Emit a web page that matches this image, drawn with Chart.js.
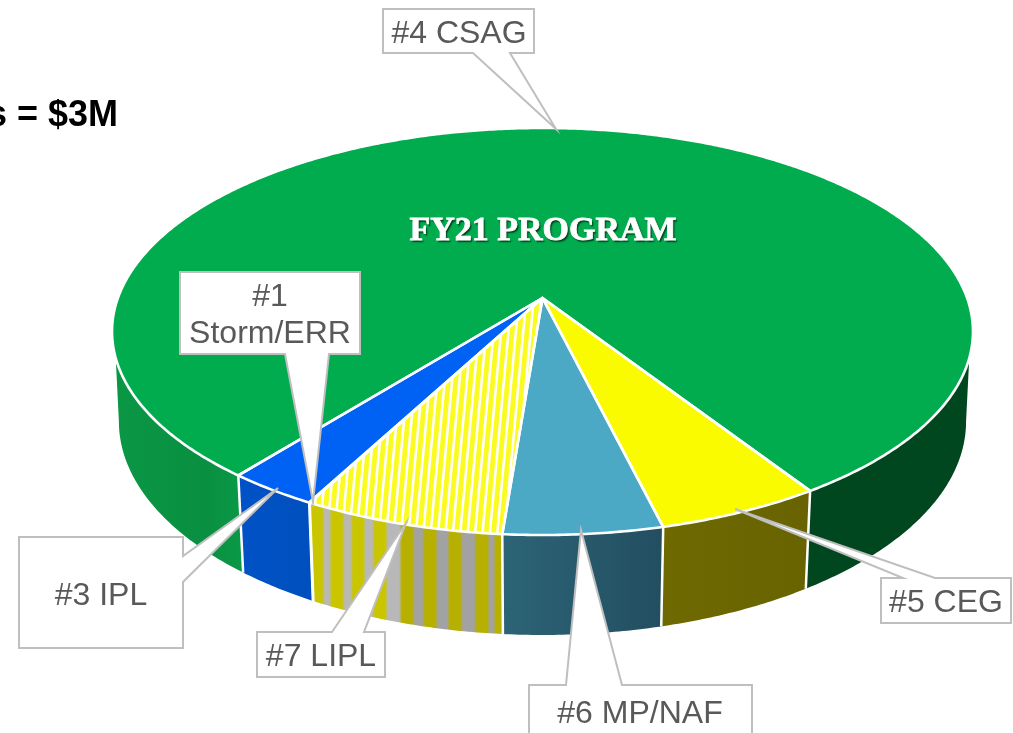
<!DOCTYPE html>
<html><head><meta charset="utf-8">
<style>html,body{margin:0;padding:0;background:#fff;overflow:hidden}canvas{display:block}</style>
<script src="https://cdn.jsdelivr.net/npm/chart.js@4/dist/chart.umd.min.js"></script>
</head><body><canvas id="c" width="1013" height="733"></canvas>
<script>
// Data (share of FY21 program, %), clockwise from the CEG slice
const categories = ['#5 CEG', '#6 MP/NAF', '#7 LIPL', '#1 Storm/ERR', '#3 IPL', '#4 CSAG'];
const shares = [5.3, 5.1, 6.5, 0.02, 2.95, 80.13];
const topColors = ['#FBFB00', '#4BA9C6', '#FBFB22', '#0062F5', '#0062F5', '#00AC4E'];
const titleText = 'FY21 PROGRAM';
const totalText = 's = $3M';

// Drawing layout
const firstSliceRotation = 147.1;
const P = {X0: 542.5, Y0: 298, R: 424.6, S: 198, k: 0.1646};
const D = rad => rad * Math.PI / 180;
const proj = (th, f = 1) => {
  const u = f * Math.cos(th), v = f * Math.sin(th), w = 1 - P.k * v;
  return [P.X0 + P.R * u / w, P.Y0 + P.S * v / w];
};
const lower = (th) => {
  const [x, y] = proj(th);
  return [541 + 0.984 * (x - 541), 421.5 + 1.049 * (y - 331.5)];
};
const stripeCentres = [317, 337, 358, 380, 407, 430, 455, 482, 501];
const callouts = [
  {cat: 5, box: [383, 9, 534, 53], lines: ['#4 CSAG'], base: [[473, 53], [510, 53]], tip: [556, 129], tx: 459, ty: [43]},
  {cat: 3, box: [180, 272, 360, 354], lines: ['#1', 'Storm/ERR'], base: [[285, 354], [329, 354]], tip: [313, 502], tx: 270, ty: [306, 343]},
  {cat: 4, box: [19, 537, 183, 648], lines: ['#3 IPL'], base: [[183, 556], [183, 582]], tip: [278, 488], tx: 101, ty: [605]},
  {cat: 2, box: [257, 632, 385, 677], lines: ['#7 LIPL'], base: [[332, 632], [364, 632]], tip: [406, 523], tx: 321, ty: [666]},
  {cat: 1, box: [529, 685, 752, 760], lines: ['#6 MP/NAF'], base: [[566, 685], [622, 685]], tip: [581, 530], tx: 640, ty: [723]},
  {cat: 0, box: [881, 578, 1011, 623], lines: ['#5 CEG'], base: [[903, 578], [935, 578]], tip: [735, 509], tx: 946, ty: [612]}
];

function sidePaint(ctx, i, x0, x1) {
  const g = ctx.createLinearGradient(x0, 0, x1, 0);
  if (i === 0) { g.addColorStop(0, '#6E6900'); g.addColorStop(1, '#686300'); }
  else if (i === 1) { g.addColorStop(0, '#2C6476'); g.addColorStop(1, '#224E60'); }
  else if (i === 3 || i === 4) { g.addColorStop(0, '#0052C6'); g.addColorStop(1, '#004FBE'); }
  else if (i === 2) {
    const span = x1 - x0;
    const stop = (px, col) => g.addColorStop(Math.min(1, Math.max(0, (px - x0) / span)), col);
    stripeCentres.forEach((c, n) => {
      const t = n / (stripeCentres.length - 1);
      const y = t < 0.5 ? '#C9C600' : '#B7B000', s = t < 0.5 ? '#B8B8B8' : '#A2A2A2';
      stop(c - 5, y); stop(c + 5, y);
      const next = stripeCentres[n + 1];
      if (next) { stop(c + 8, s); stop(next - 8, s); }
    });
  }
  else return null;
  return g;
}

const pie3d = {
  id: 'pie3d',
  beforeDatasetsDraw(chart) {
    const ctx = chart.ctx, arcs = chart.getDatasetMeta(0).data;
    const topMin = D(16.8), topMax = D(163.2), botMin = D(9.5), botMax = D(170.5);
    const step = D(0.5);
    ctx.save();
    arcs.forEach((arc, i) => {
      const a = arc.startAngle, b = arc.endAngle;
      [0, 2 * Math.PI].forEach(off => {
        const a0 = a - off, b0 = b - off;
        const bs = Math.max(a0, botMin), be = Math.min(b0, botMax);
        if (be <= bs) return;
        const ts = Math.max(a0, topMin), te = Math.min(b0, topMax);
        const pts = [];
        for (let t = ts; t < te; t += step) pts.push(proj(t));
        pts.push(proj(te));
        const low = [];
        for (let t = bs; t < be; t += step) low.push(lower(t));
        low.push(lower(be));
        low.reverse().forEach(p => pts.push(p));
        let minX = 1e9, maxX = -1e9;
        pts.forEach(p => { minX = Math.min(minX, p[0]); maxX = Math.max(maxX, p[0]); });
        ctx.beginPath();
        pts.forEach((p, n) => n ? ctx.lineTo(p[0], p[1]) : ctx.moveTo(p[0], p[1]));
        ctx.closePath();
        let paint = sidePaint(ctx, i, minX, maxX);
        if (!paint) {
          if (minX > 500) paint = '#00471F';
          else {
            paint = ctx.createLinearGradient(113, 0, 245, 0);
            paint.addColorStop(0, '#0A9745'); paint.addColorStop(0.7, '#098F41'); paint.addColorStop(1, '#0A9A47');
          }
        }
        ctx.fillStyle = paint;
        ctx.fill();
      });
    });
    // white seams on the wall
    ctx.strokeStyle = '#fff'; ctx.lineWidth = 2.5;
    arcs.forEach(arc => {
      const t = arc.startAngle, p = proj(t), q = lower(t);
      ctx.beginPath(); ctx.moveTo(p[0], p[1]); ctx.lineTo(q[0], q[1]); ctx.stroke();
    });
    // top face
    arcs.forEach((arc, i) => {
      const a = arc.startAngle, b = arc.endAngle;
      ctx.beginPath();
      const c = proj(0, 0);
      ctx.moveTo(c[0], c[1]);
      for (let t = a; t < b; t += step) { const p = proj(t); ctx.lineTo(p[0], p[1]); }
      const e = proj(b); ctx.lineTo(e[0], e[1]);
      ctx.closePath();
      ctx.fillStyle = chart.data.datasets[0].backgroundColor[i];
      ctx.fill();
      if (i === 2) {
        ctx.save(); ctx.clip();
        ctx.fillStyle = '#fff'; ctx.fillRect(280, 290, 280, 260);
        ctx.strokeStyle = chart.data.datasets[0].backgroundColor[i];
        ctx.lineWidth = 4.8;
        for (let x = 270; x < 560; x += 7.4) {
          ctx.beginPath(); ctx.moveTo(x, 550); ctx.lineTo(x + 24, 290); ctx.stroke();
        }
        ctx.restore();
      }
    });
    // white outlines on top
    ctx.lineJoin = 'round'; ctx.strokeStyle = '#fff'; ctx.lineWidth = 2.6;
    arcs.forEach(arc => {
      const a = arc.startAngle, b = arc.endAngle;
      ctx.beginPath();
      const c = proj(0, 0);
      ctx.moveTo(c[0], c[1]);
      for (let t = a; t < b; t += step) { const p = proj(t); ctx.lineTo(p[0], p[1]); }
      const e = proj(b); ctx.lineTo(e[0], e[1]);
      ctx.closePath();
      ctx.stroke();
    });
    ctx.restore();
    return false;
  },
  afterDraw(chart) {
    const ctx = chart.ctx;
    ctx.save();
    // centre title
    ctx.font = 'bold 34px "Liberation Serif"';
    ctx.textAlign = 'center'; ctx.textBaseline = 'alphabetic';
    ctx.shadowColor = 'rgba(0,50,20,0.9)'; ctx.shadowOffsetX = 1.5; ctx.shadowOffsetY = 1.5; ctx.shadowBlur = 1.5;
    ctx.fillStyle = '#fff';
    ctx.fillText(titleText, 543, 240);
    ctx.shadowColor = 'transparent'; ctx.shadowOffsetX = 0; ctx.shadowOffsetY = 0; ctx.shadowBlur = 0;
    ctx.strokeStyle = '#fff'; ctx.lineWidth = 0.8;
    ctx.strokeText(titleText, 543, 240);
    // clipped total
    ctx.font = 'bold 36px "Liberation Sans"';
    ctx.textAlign = 'right'; ctx.fillStyle = '#000';
    ctx.fillText(totalText, 118, 126);
    // callouts
    callouts.forEach(c => {
      const [x0, y0, x1, y1] = c.box, [b0, b1] = c.base;
      ctx.beginPath();
      if (b0[1] === y1 && b1[1] === y1) {
        ctx.moveTo(x0, y0); ctx.lineTo(x1, y0); ctx.lineTo(x1, y1);
        ctx.lineTo(b1[0], y1); ctx.lineTo(c.tip[0], c.tip[1]); ctx.lineTo(b0[0], y1); ctx.lineTo(x0, y1);
      } else if (b0[1] === y0 && b1[1] === y0) {
        ctx.moveTo(x0, y0); ctx.lineTo(b0[0], y0); ctx.lineTo(c.tip[0], c.tip[1]); ctx.lineTo(b1[0], y0);
        ctx.lineTo(x1, y0); ctx.lineTo(x1, y1); ctx.lineTo(x0, y1);
      } else {
        ctx.moveTo(x0, y0); ctx.lineTo(x1, y0); ctx.lineTo(b0[0], b0[1]); ctx.lineTo(c.tip[0], c.tip[1]);
        ctx.lineTo(b1[0], b1[1]); ctx.lineTo(x1, y1); ctx.lineTo(x0, y1);
      }
      ctx.closePath();
      ctx.fillStyle = '#fff'; ctx.fill();
      ctx.strokeStyle = '#BFBFBF'; ctx.lineWidth = 2; ctx.lineJoin = 'miter'; ctx.stroke();
      ctx.fillStyle = '#595959'; ctx.font = '32px "Liberation Sans"'; ctx.textAlign = 'center';
      c.lines.forEach((l, n) => ctx.fillText(l, c.tx, c.ty[n]));
    });
    ctx.restore();
  }
};

new Chart(document.getElementById('c'), {
  type: 'pie',
  data: {labels: categories, datasets: [{data: shares, backgroundColor: topColors, borderWidth: 0}]},
  options: {
    responsive: false, animation: false, rotation: firstSliceRotation,
    layout: {padding: 0},
    plugins: {legend: {display: false}, tooltip: {enabled: false}, title: {display: false}}
  },
  plugins: [pie3d]
});
</script></body></html>
